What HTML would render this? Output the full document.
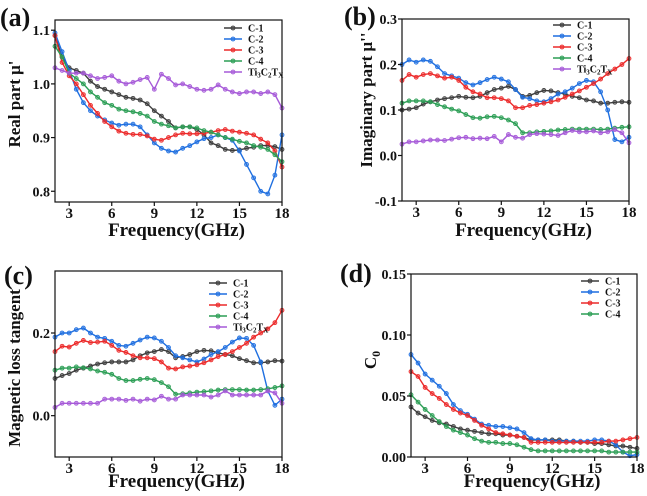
<!DOCTYPE html>
<html><head><meta charset="utf-8">
<style>
html,body{margin:0;padding:0;background:#fff;}
svg{display:block;font-family:"Liberation Serif",serif;font-weight:bold;}
</style></head>
<body>
<svg id="chart" width="647" height="496" viewBox="0 0 647 496" xmlns="http://www.w3.org/2000/svg"></svg>
<script>
const freq=[2,2.5,3,3.5,4,4.5,5,5.5,6,6.5,7,7.5,8,8.5,9,9.5,10,10.5,11,11.5,12,12.5,13,13.5,14,14.5,15,15.5,16,16.5,17,17.5,18];
const seriesNames=["C-1","C-2","C-3","C-4","Ti3C2TX"];
const xTicks=[3,6,9,12,15,18];
// panel a: mu'
const aC1=[1.09,1.05,1.03,1.025,1.02,1.005,0.995,0.99,0.985,0.98,0.975,0.973,0.97,0.963,0.95,0.94,0.93,0.918,0.92,0.92,0.915,0.905,0.89,0.885,0.878,0.876,0.877,0.88,0.882,0.885,0.885,0.883,0.878];
const aC2=[1.095,1.06,1.025,0.99,0.965,0.95,0.94,0.933,0.927,0.923,0.925,0.925,0.92,0.905,0.89,0.88,0.875,0.873,0.88,0.885,0.892,0.898,0.9,0.905,0.9,0.895,0.875,0.85,0.825,0.8,0.795,0.83,0.905];
const aC3=[1.09,1.04,1.015,1.0,0.98,0.96,0.945,0.93,0.92,0.912,0.908,0.906,0.906,0.903,0.897,0.895,0.9,0.905,0.908,0.907,0.907,0.908,0.91,0.913,0.915,0.912,0.91,0.908,0.905,0.897,0.89,0.875,0.845];
const aC4=[1.07,1.05,1.02,1.01,1.0,0.985,0.975,0.965,0.96,0.953,0.95,0.948,0.945,0.94,0.93,0.925,0.922,0.918,0.92,0.92,0.918,0.913,0.91,0.905,0.9,0.897,0.893,0.89,0.885,0.882,0.878,0.868,0.855];
const aTi=[1.03,1.025,1.02,1.02,1.02,1.015,1.01,1.012,1.015,1.005,1.0,1.003,1.008,1.012,0.99,1.018,1.01,0.998,1.0,0.995,0.99,0.988,0.99,0.998,0.99,0.985,0.982,0.985,0.985,0.982,0.985,0.98,0.955];
const aTicks=[0.8,0.9,1.0,1.1];
// panel b: mu''
const bC1=[0.1,0.102,0.105,0.113,0.118,0.122,0.125,0.127,0.13,0.128,0.127,0.13,0.138,0.145,0.148,0.152,0.145,0.13,0.132,0.138,0.143,0.142,0.138,0.135,0.13,0.127,0.122,0.12,0.115,0.115,0.117,0.118,0.117];
const bC2=[0.2,0.21,0.205,0.21,0.207,0.195,0.18,0.175,0.17,0.16,0.155,0.16,0.167,0.172,0.168,0.162,0.145,0.128,0.125,0.12,0.118,0.125,0.135,0.14,0.148,0.158,0.165,0.162,0.14,0.1,0.035,0.03,0.04];
const bC3=[0.165,0.178,0.172,0.178,0.18,0.175,0.17,0.172,0.165,0.15,0.14,0.135,0.127,0.127,0.125,0.12,0.105,0.105,0.11,0.112,0.115,0.118,0.122,0.128,0.135,0.142,0.15,0.158,0.168,0.18,0.19,0.2,0.213];
const bC4=[0.115,0.12,0.12,0.12,0.118,0.112,0.107,0.102,0.098,0.09,0.083,0.082,0.085,0.086,0.083,0.078,0.07,0.05,0.05,0.052,0.053,0.054,0.056,0.057,0.058,0.058,0.058,0.058,0.057,0.058,0.06,0.062,0.063];
const bTi=[0.025,0.03,0.03,0.032,0.034,0.034,0.033,0.036,0.039,0.04,0.037,0.038,0.037,0.042,0.03,0.046,0.04,0.038,0.046,0.048,0.047,0.046,0.044,0.05,0.055,0.052,0.052,0.054,0.05,0.052,0.057,0.05,0.028];
const bTicks=[-0.1,0.0,0.1,0.2,0.3];
// panel c: tan delta
const cC1=[0.09,0.097,0.102,0.11,0.115,0.12,0.125,0.128,0.13,0.13,0.13,0.135,0.145,0.152,0.155,0.16,0.155,0.14,0.143,0.148,0.155,0.158,0.157,0.152,0.148,0.145,0.138,0.133,0.128,0.128,0.13,0.133,0.132];
const cC2=[0.19,0.2,0.2,0.208,0.212,0.2,0.19,0.187,0.18,0.17,0.168,0.175,0.183,0.19,0.188,0.18,0.165,0.145,0.14,0.135,0.13,0.137,0.148,0.155,0.165,0.178,0.188,0.187,0.17,0.13,0.06,0.025,0.04];
const cC3=[0.155,0.168,0.166,0.175,0.182,0.177,0.178,0.18,0.17,0.158,0.153,0.145,0.14,0.14,0.138,0.13,0.115,0.113,0.118,0.12,0.123,0.128,0.135,0.143,0.148,0.155,0.165,0.175,0.19,0.2,0.21,0.225,0.255];
const cC4=[0.11,0.115,0.115,0.118,0.116,0.113,0.108,0.105,0.1,0.09,0.085,0.085,0.088,0.09,0.087,0.08,0.07,0.052,0.053,0.055,0.057,0.058,0.06,0.062,0.063,0.063,0.063,0.062,0.062,0.063,0.065,0.068,0.072];
const cTi=[0.02,0.03,0.03,0.03,0.03,0.03,0.03,0.04,0.04,0.04,0.037,0.04,0.035,0.04,0.038,0.047,0.04,0.04,0.05,0.05,0.05,0.05,0.045,0.05,0.06,0.05,0.05,0.05,0.05,0.05,0.06,0.055,0.03];
const cTicks=[0.0,0.2];
// panel d: C0
const dC1=[0.041,0.036,0.033,0.03,0.028,0.027,0.025,0.023,0.022,0.021,0.02,0.019,0.019,0.018,0.018,0.017,0.016,0.014,0.014,0.014,0.014,0.014,0.013,0.013,0.012,0.012,0.011,0.011,0.01,0.009,0.009,0.008,0.007];
const dC2=[0.084,0.077,0.068,0.063,0.058,0.052,0.043,0.038,0.035,0.031,0.027,0.026,0.025,0.025,0.024,0.023,0.02,0.015,0.014,0.014,0.013,0.013,0.013,0.013,0.013,0.013,0.014,0.014,0.013,0.01,0.004,0.001,0.002];
const dC3=[0.07,0.066,0.057,0.052,0.048,0.043,0.039,0.036,0.034,0.03,0.026,0.023,0.02,0.019,0.018,0.017,0.016,0.012,0.012,0.012,0.012,0.012,0.012,0.012,0.012,0.012,0.012,0.012,0.013,0.013,0.014,0.015,0.016];
const dC4=[0.051,0.045,0.039,0.034,0.029,0.025,0.022,0.02,0.018,0.015,0.013,0.012,0.012,0.011,0.011,0.01,0.008,0.006,0.005,0.005,0.005,0.005,0.005,0.005,0.005,0.005,0.005,0.005,0.004,0.004,0.004,0.004,0.004];
const dTicks=[0.00,0.05,0.10,0.15];

const colors=["#3d3d3d","#1f6fe0","#ec2a2a","#2c9e55","#a65ad8"];
const NS="http://www.w3.org/2000/svg";
const svg=document.getElementById('chart');
function mk(tag,attrs,parent){const e=document.createElementNS(NS,tag);for(const k in attrs)e.setAttribute(k,attrs[k]);(parent||svg).appendChild(e);return e;}

function panel(o){
  const g=mk('g',{});
  
  
  const X=f=>o.x0+(f-2)/16*(o.x1-o.x0);
  const Y=v=>o.y1-(v-o.ymin)/(o.ymax-o.ymin)*(o.y1-o.y0);
  o.series.forEach((s,i)=>{
    const sg=mk('g',{},g);
    
    
    const pts=s.map((v,j)=>X(freq[j]).toFixed(1)+','+Y(v).toFixed(1)).join(' ');
    const pl=mk('polyline',{points:pts,fill:'none',stroke:colors[i],'stroke-width':1.4},sg);
    
    
    s.forEach((v,j)=>{
      const c=mk('circle',{cx:X(freq[j]),cy:Y(v),r:2,fill:colors[i],'fill-opacity':0.55,stroke:colors[i],'stroke-width':0.8},sg);
      
      
    });
  });
  const fr=mk('rect',{x:o.x0,y:o.y0,width:o.x1-o.x0,height:o.y1-o.y0,fill:'none',stroke:'#111','stroke-width':1.2},g);
  
  
  xTicks.forEach(t=>{
    mk('line',{x1:X(t),x2:X(t),y1:o.y1,y2:o.y1+4,stroke:'#111','stroke-width':1.2},g);
    const tx=mk('text',{x:X(t),y:o.y1+16,'text-anchor':'middle','font-size':15,fill:'#111'},g);
    tx.textContent=t;
    
    
  });
  o.yTicks.forEach(t=>{
    mk('line',{x1:o.x0-4,x2:o.x0,y1:Y(t),y2:Y(t),stroke:'#111','stroke-width':1.2},g);
    const tx=mk('text',{x:o.x0-5,y:Y(t)+5,'text-anchor':'end','font-size':14,fill:'#111'},g);
    tx.textContent=t.toFixed(o.dec);
    
    
  });
  const xt=mk('text',{x:(o.x0+o.x1)/2+8,y:o.y1+o.xto,'text-anchor':'middle','font-size':19,fill:'#111'},g);
  xt.textContent='Frequency(GHz)';
  
  
  const yt=mk('text',{x:0,y:0,'text-anchor':'middle','font-size':17,fill:'#111',transform:`translate(${o.ytx},${o.yty}) rotate(-90)`},g);
  yt.innerHTML=o.ytitle;
  
  
  const pl=mk('text',{x:o.lx,y:o.ly,'font-size':26,fill:'#111'},g);
  pl.textContent='('+o.id+')';
  
  
  const lg=mk('g',{},g);
  
  
  o.series.forEach((s,i)=>{
    const y=o.legY+i*11;
    const e=mk('g',{},lg);
    
    
    mk('line',{x1:o.legX,x2:o.legX+18,y1:y,y2:y,stroke:colors[i],'stroke-width':1.4},e);
    mk('circle',{cx:o.legX+9,cy:y,r:2,fill:colors[i],'fill-opacity':0.55,stroke:colors[i],'stroke-width':0.8},e);
    const t=mk('text',{x:o.legX+24,y:y+3.5,'font-size':10,fill:'#111'},e);
    if(i===4)t.innerHTML='Ti<tspan font-size="7" dy="2">3</tspan><tspan dy="-2">C</tspan><tspan font-size="7" dy="2">2</tspan><tspan dy="-2">T</tspan><tspan font-size="7" dy="2">X</tspan>';
    else t.textContent=seriesNames[i];
  });
}
panel({id:'a',x0:55,x1:282,y0:20,y1:202,ymin:0.78,ymax:1.119,yTicks:aTicks,dec:1,series:[aC1,aC2,aC3,aC4,aTi],ytitle:'Real part μ\'',ytx:20,yty:104,lx:0,ly:26,legX:224,legY:28,xto:34});
panel({id:'b',x0:402,x1:629,y0:19,y1:201,ymin:-0.1,ymax:0.3,yTicks:bTicks,dec:1,series:[bC1,bC2,bC3,bC4,bTi],ytitle:'Imaginary part μ\'\'',ytx:372,yty:100,lx:344,ly:25,legX:553,legY:25,xto:35});
panel({id:'c',x0:55,x1:282,y0:271,y1:457,ymin:-0.1,ymax:0.35,yTicks:cTicks,dec:1,series:[cC1,cC2,cC3,cC4,cTi],ytitle:'Magnetic loss tangent',ytx:20,yty:368,lx:4,ly:284,legX:209,legY:283,xto:30});
panel({id:'d',x0:411,x1:637,y0:274,y1:457,ymin:0,ymax:0.15,yTicks:dTicks,dec:2,series:[dC1,dC2,dC3,dC4],ytitle:'C<tspan font-size="12" dy="4">0</tspan>',ytx:376,yty:360,lx:340,ly:282,legX:581,legY:281,xto:30});
</script>
</body></html>
